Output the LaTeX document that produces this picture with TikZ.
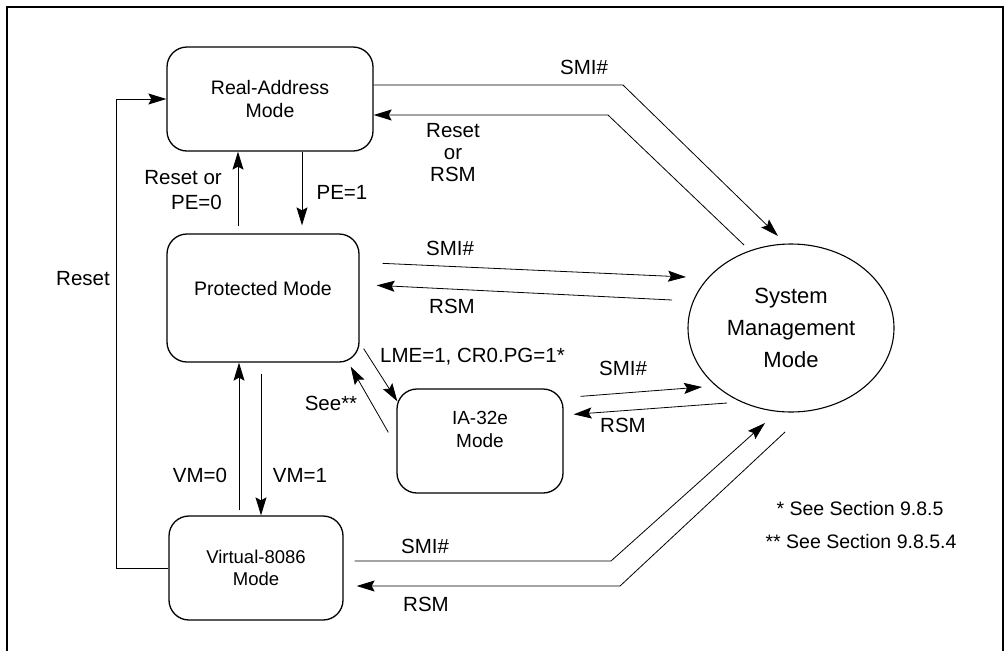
\documentclass[tikz,border=0pt]{standalone}
\usepackage{fontspec}
\setmainfont{Liberation Sans}
\usetikzlibrary{arrows.meta,shapes.geometric}
\begin{document}
\begin{tikzpicture}[x=1pt,y=-1pt,
  modebox/.style={draw,line width=1.3pt,rounded corners=20pt,inner sep=0pt,align=center,
    font=\fontsize{19.5}{23}\selectfont},
  conn/.style={line width=0.8pt},
  arr/.style={conn,-{Stealth[length=18pt,width=11pt,inset=3pt]}},
  lbl/.style={font=\fontsize{20.5}{22}\selectfont,inner sep=0pt,align=center},
  note/.style={font=\fontsize{19.5}{22}\selectfont,inner sep=0pt},
]
\useasboundingbox (0,0) rectangle (1008,651);
\draw[line width=2.5pt] (7,651) -- (7,7) -- (1003,7) -- (1003,651);

% mode nodes
\node[modebox,minimum width=206pt,minimum height=104pt] (real) at (270,99) {Real-Address\\Mode};
\node[modebox,minimum width=192pt,minimum height=128pt,text depth=20pt] (prot) at (263,298) {Protected Mode};
\node[modebox,minimum width=166pt,minimum height=104pt,text depth=24pt,font=\fontsize{19}{23}\selectfont] (ia) at (480,441) {IA-32e\\Mode};
\node[modebox,minimum width=174pt,minimum height=104pt,font=\fontsize{18.5}{22}\selectfont] (v86) at (256,568) {Virtual-8086\\Mode};
\node[draw,ellipse,line width=1.1pt,minimum width=206pt,minimum height=168pt,inner sep=0pt,align=center,
  font=\fontsize{22}{32}\selectfont] (smm) at (791,328) {System\\Management\\Mode};

% bend points
\coordinate (b1) at (623,85);
\coordinate (b2) at (608,115);
\coordinate (b3) at (611,561);
\coordinate (b4) at (620,586);

% Reset loop
\draw[arr] (v86.west) -- ++(-52,0) |- (real.west);

% Real <-> Protected
\draw[arr,shorten <=7pt] (prot.north -| 238,0) -- (real.south -| 238,0);
\draw[arr,shorten >=8pt] (real.south -| 302,0) -- (prot.north -| 302,0);

% Protected <-> Virtual-8086
\draw[arr,shorten <=5pt] (v86.north -| 239,0) -- (prot.south -| 239,0);
\draw[arr,shorten <=11pt] (prot.south -| 261,0) -- (v86.north -| 261,0);

% Protected <-> IA-32e
\draw[arr] ([shift={(4pt,14pt)}]prot.south east) -- ([shift={(1pt,-13pt)}]ia.north west);
\draw[arr] ([shift={(-8pt,-44pt)}]ia.north west) -- ([shift={(-9pt,-4pt)}]prot.south east);

% Real <-> SMM
\draw[arr] ([shift={(0pt,14pt)}]real.east) -- (b1) -- ([shift={(-13pt,92pt)}]smm.center);
\draw[arr] ([shift={(-47pt,83pt)}]smm.center) -- (b2) -- ([shift={(0pt,-16pt)}]real.east);

% Protected <-> SMM
\draw[arr] ([shift={(23pt,-30pt)}]prot.north east) -- ([shift={(-105pt,51pt)}]smm.center);
\draw[arr] ([shift={(-119pt,28pt)}]smm.center) -- ([shift={(17pt,-52pt)}]prot.north east);

% IA-32e <-> SMM
\draw[arr] ([shift={(17pt,-8pt)}]ia.north east) -- ([shift={(-89pt,-59pt)}]smm.center);
\draw[arr] ([shift={(-64pt,-75pt)}]smm.center) -- ([shift={(10pt,-26pt)}]ia.north east);

% Virtual-8086 <-> SMM
\draw[arr] ([shift={(11pt,7pt)}]v86.east) -- (b3) -- ([shift={(-26pt,-95pt)}]smm.center);
\draw[arr] ([shift={(-6pt,-104pt)}]smm.center) -- (b4) -- ([shift={(13pt,-18pt)}]v86.east);

% labels
\node[lbl] (l1) at (584,67) {SMI\#};
\node[lbl] (l2) at (453,153) {Reset\\or\\RSM};
\node[lbl,align=right,anchor=east,font=\fontsize{20.5}{25}\selectfont] (l3) at (222,190) {Reset or\\PE=0};
\node[lbl] (l4) at (342,192) {PE=1};
\node[lbl] (l5) at (83,279) {Reset};
\node[lbl] (l6) at (450,248) {SMI\#};
\node[lbl] (l7) at (452,306) {RSM};
\node[lbl,anchor=west] (l8) at (380,357) {LME=1, CR0.PG=1*};
\node[lbl] (l9) at (331,403) {See**};
\node[lbl] (l10) at (623,368) {SMI\#};
\node[lbl] (l11) at (623,425) {RSM};
\node[lbl] (l12) at (200,475) {VM=0};
\node[lbl] (l13) at (300,475) {VM=1};
\node[lbl] (l14) at (425,546) {SMI\#};
\node[lbl] (l15) at (426,604) {RSM};
\node[note] (n1) at (860,509) {* See Section 9.8.5};
\node[note] (n2) at (861,542) {** See Section 9.8.5.4};
\end{tikzpicture}
\end{document}
